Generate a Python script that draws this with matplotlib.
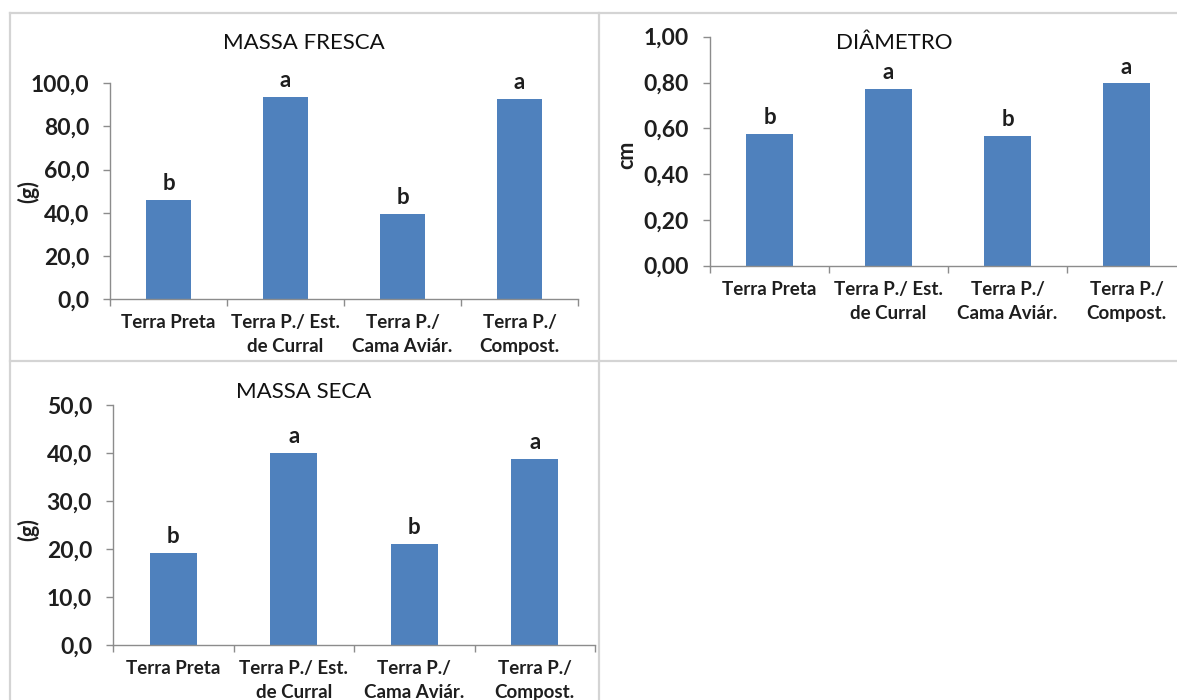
import matplotlib
matplotlib.use("Agg")
import matplotlib.pyplot as plt
from matplotlib.lines import Line2D
from matplotlib.ticker import FixedLocator, FuncFormatter

# Treatments (substrates)
categories = ["Terra Preta", "Terra P./ Est.\nde Curral", "Terra P./\nCama Aviár.", "Terra P./\nCompost."]

# Fresh mass (g)
massa_fresca = [45.9, 93.8, 39.4, 92.7]
letras_fresca = ["b", "a", "b", "a"]

# Stem diameter (cm)
diametro = [0.575, 0.772, 0.566, 0.796]
letras_diametro = ["b", "a", "b", "a"]

# Dry mass (g)
massa_seca = [19.2, 40.0, 21.0, 38.8]
letras_seca = ["b", "a", "b", "a"]

W, H = 1177, 700
BAR = "#4F81BD"
AXIS = "#8C8C8C"
FRAME = "#D4D4D4"
TEXT = "#1E1E1E"
FONT = "Lato"

plt.rcParams["font.family"] = [FONT, "DejaVu Sans"]

fig = plt.figure(figsize=(W / 100, H / 100), dpi=100)
fig.patch.set_facecolor("white")


def fx(x):
    return x / W


def fy(y):
    return 1 - y / H


def rect(left, top, right, bottom):
    return [fx(left), fy(bottom), fx(right) - fx(left), fy(top) - fy(bottom)]


def panel(box, values, letters, ymax, ystep, decimals, ylabel, title,
          ylabel_xy, title_xy):
    ax = fig.add_axes(box)
    x = list(range(len(categories)))
    bars = ax.bar(x, values, width=0.39, color=BAR, edgecolor="none", zorder=2)
    ax.set_xlim(-0.5, len(categories) - 0.5)
    ax.set_ylim(0, ymax)

    for spine in ("top", "right"):
        ax.spines[spine].set_visible(False)
    for spine in ("left", "bottom"):
        ax.spines[spine].set_color(AXIS)
        ax.spines[spine].set_linewidth(1.0)

    n_ticks = int(round(ymax / ystep)) + 1
    ax.yaxis.set_major_locator(FixedLocator([i * ystep for i in range(n_ticks)]))
    ax.yaxis.set_major_formatter(
        FuncFormatter(lambda v, p: f"{v:.{decimals}f}".replace(".", ",")))
    ax.tick_params(axis="y", direction="out", length=5, width=1.0, color=AXIS,
                   labelsize=16.5, labelcolor=TEXT, pad=10)
    for lab in ax.get_yticklabels():
        lab.set_fontweight("bold")

    # category boundaries carry the tick marks, labels sit at the centres
    ax.xaxis.set_major_locator(FixedLocator([i - 0.5 for i in range(len(categories) + 1)]))
    ax.xaxis.set_major_formatter(FuncFormatter(lambda v, p: ""))
    ax.xaxis.set_minor_locator(FixedLocator(x))
    ax.set_xticklabels(categories, minor=True)
    ax.tick_params(axis="x", which="major", direction="out", length=5, width=1.0, color=AXIS)
    ax.tick_params(axis="x", which="minor", length=0, pad=11, labelsize=13.5, labelcolor=TEXT)
    for lab in ax.get_xticklabels(minor=True):
        lab.set_fontweight("bold")
        lab.set_linespacing(1.5)

    for rect_, letter, v in zip(bars, letters, values):
        ax.annotate(letter, (rect_.get_x() + rect_.get_width() / 2, v),
                    xytext=(0, 7), textcoords="offset points",
                    ha="center", va="baseline", fontsize=16, fontweight="bold",
                    color=TEXT, annotation_clip=False)

    fig.text(fx(ylabel_xy[0]), fy(ylabel_xy[1]), ylabel, rotation=90,
             ha="center", va="center", fontsize=15.5, fontweight="bold", color=TEXT)
    fig.text(fx(title_xy[0]), fy(title_xy[1]), title, ha="center", va="center",
             fontsize=16, color="#111111")
    ax.set_facecolor("none")
    return ax


panel(rect(110, 83.3, 578, 299), massa_fresca, letras_fresca, 100, 20, 1,
      "(g)", "MASSA FRESCA", (28, 192), (304, 43))
panel(rect(710, 36.7, 1186, 265.7), diametro, letras_diametro, 1.0, 0.2, 2,
      "cm", "DIÂMETRO", (627, 155), (894, 43))
panel(rect(113, 405, 595, 645), massa_seca, letras_seca, 50, 10, 1,
      "(g)", "MASSA SECA", (28, 530), (304, 392))

# light frames separating the three chart areas
frame_lines = [
    ((10, 13), (1177, 13)),
    ((10, 13), (10, 700)),
    ((599, 13), (599, 700)),
    ((10, 361), (1177, 361)),
]
for (x0, y0), (x1, y1) in frame_lines:
    fig.add_artist(Line2D([fx(x0), fx(x1)], [fy(y0), fy(y1)], color=FRAME,
                          linewidth=1.6, transform=fig.transFigure, zorder=0))

fig.savefig("out.png", dpi=100, facecolor="white")
